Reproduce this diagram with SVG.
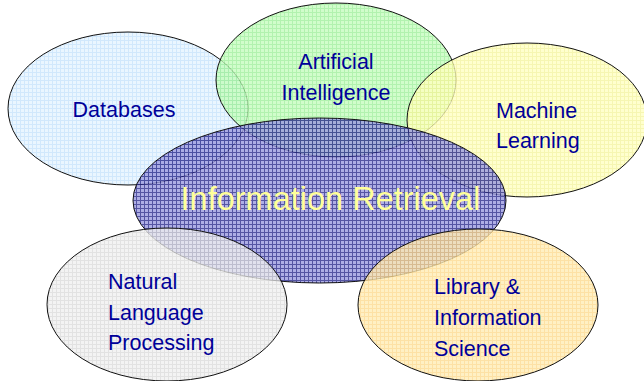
<svg xmlns="http://www.w3.org/2000/svg" width="644" height="381" viewBox="0 0 644 381">
  <defs>
    <!-- fine grid fills, one per field -->
    <pattern id="gridBlue" width="4" height="4" patternUnits="userSpaceOnUse">
      <rect width="4" height="4" fill="#e4f3ff"/>
      <path d="M0 0.5H4M0.5 0V4" stroke="#c4e2fb" stroke-width="1"/>
    </pattern>
    <pattern id="gridGreen" width="4" height="4" patternUnits="userSpaceOnUse">
      <rect width="4" height="4" fill="#c4fcbc"/>
      <path d="M0 0.5H4M0.5 0V4" stroke="#9cee98" stroke-width="1"/>
    </pattern>
    <pattern id="gridYellow" width="4" height="4" patternUnits="userSpaceOnUse">
      <rect width="4" height="4" fill="#ffffc0"/>
      <path d="M0 0.5H4M0.5 0V4" stroke="#f4f49c" stroke-width="1"/>
    </pattern>
    <pattern id="gridIndigo" width="4" height="4" patternUnits="userSpaceOnUse">
      <rect width="4" height="4" fill="#9a9ade"/>
      <path d="M0 0.5H4M0.5 0V4" stroke="#2a2a8c" stroke-width="1"/>
    </pattern>
    <pattern id="gridGrey" width="4" height="4" patternUnits="userSpaceOnUse">
      <rect width="4" height="4" fill="#efefef"/>
      <path d="M0 0.5H4M0.5 0V4" stroke="#dadada" stroke-width="1"/>
    </pattern>
    <pattern id="gridOrange" width="4" height="4" patternUnits="userSpaceOnUse">
      <rect width="4" height="4" fill="#ffecb4"/>
      <path d="M0 0.5H4M0.5 0V4" stroke="#fcd88c" stroke-width="1"/>
    </pattern>
  </defs>
  <style>
    .field { stroke: #111; stroke-width: 1; }
    .pale { fill-opacity: 0.78; }
    .core { fill-opacity: 0.8; }
    .label { font-family: "Liberation Sans", Arial, sans-serif; font-size: 21.5px; fill: #000099; }
    .title { font-family: "Liberation Sans", Arial, sans-serif; font-size: 32.5px; fill: #ffff99; }
  </style>

  <g id="databases">
    <ellipse class="field pale" cx="128" cy="108.5" rx="120" ry="76.5" fill="url(#gridBlue)"/>
    <text class="label" x="124" y="117" text-anchor="middle">Databases</text>
  </g>

  <g id="artificial-intelligence">
    <ellipse class="field pale" cx="336" cy="80" rx="120" ry="77" fill="url(#gridGreen)"/>
    <text class="label" x="336" y="69" text-anchor="middle">Artificial</text>
    <text class="label" x="336" y="100" text-anchor="middle">Intelligence</text>
  </g>

  <g id="machine-learning">
    <ellipse class="field pale" cx="527" cy="120" rx="120" ry="77" fill="url(#gridYellow)"/>
    <text class="label" x="496" y="118">Machine</text>
    <text class="label" x="496" y="148">Learning</text>
  </g>

  <g id="information-retrieval">
    <ellipse class="field core" cx="319.5" cy="200.5" rx="186.5" ry="82.5" fill="url(#gridIndigo)"/>
    <text class="title" x="330.5" y="210" text-anchor="middle">Information Retrieval</text>
  </g>

  <g id="natural-language-processing">
    <ellipse class="field pale" cx="167" cy="304.5" rx="120" ry="76.5" fill="url(#gridGrey)"/>
    <text class="label" x="108" y="289">Natural</text>
    <text class="label" x="108" y="320">Language</text>
    <text class="label" x="108" y="350">Processing</text>
  </g>

  <g id="library-information-science">
    <ellipse class="field pale" cx="478" cy="305" rx="120" ry="76" fill="url(#gridOrange)"/>
    <text class="label" x="434" y="294">Library &amp;</text>
    <text class="label" x="434" y="325">Information</text>
    <text class="label" x="434" y="356">Science</text>
  </g>

  <g id="connectors"/>
</svg>
